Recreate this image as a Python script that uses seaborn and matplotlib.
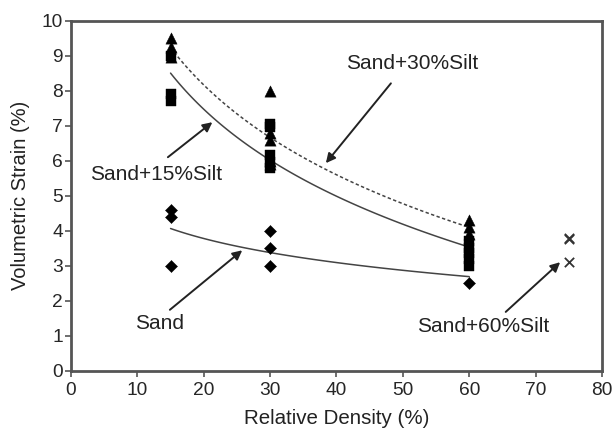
import numpy as np
import matplotlib
matplotlib.use("Agg")
import matplotlib.pyplot as plt
import seaborn as sns

# Measured volumetric strain (%) against relative density (%) for each soil
sand_x = [15, 15, 15, 30, 30, 30, 60]
sand_y = [4.6, 4.4, 3.0, 4.0, 3.5, 3.0, 2.5]

silt15_x = [15, 15, 15, 30, 30, 30, 30, 30, 60, 60, 60, 60, 60]
silt15_y = [9.0, 7.9, 7.7, 7.05, 6.95, 6.15, 5.95, 5.8, 3.7, 3.5, 3.35, 3.2, 3.0]

silt30_x = [15, 15, 15, 30, 30, 30, 30, 30, 60, 60, 60]
silt30_y = [9.5, 9.25, 8.95, 8.0, 6.8, 6.6, 6.0, 5.9, 4.3, 4.1, 3.9]

silt60_x = [75, 75, 75]
silt60_y = [3.8, 3.75, 3.1]

x_ticks = [0, 10, 20, 30, 40, 50, 60, 70, 80]
y_ticks = list(range(0, 11))

sns.set_style("white")
plt.rcParams["font.family"] = ["Liberation Sans", "DejaVu Sans"]

fig = plt.figure(figsize=(6.13, 4.32), dpi=100)
ax = fig.add_axes([0.1158, 0.1419, 0.8662, 0.8102])

# (x, y, marker, size, dash pattern of the trendline)
series = [
    (silt30_x, silt30_y, "^", 66, (2.2, 1.6)),
    (silt15_x, silt15_y, "s", 60, None),
    (sand_x, sand_y, "D", 38, None),
]

# log-x trendlines fitted to each data set
for xs, ys, _, _, dash in series:
    sns.regplot(x=np.array(xs, float), y=np.array(ys, float), logx=True,
                ci=None, scatter=False, truncate=True, ax=ax,
                line_kws=dict(color="#444444", lw=1.1))
    if dash is not None:
        ax.lines[-1].set_dashes(dash)

for xs, ys, mk, sz, _ in series:
    sns.scatterplot(x=xs, y=ys, marker=mk, s=sz, color="black",
                    edgecolor="black", linewidth=0.3, ax=ax, zorder=3)

sns.scatterplot(x=silt60_x, y=silt60_y, marker="x", s=45, color="#333333",
                linewidth=1.3, ax=ax, zorder=3)

ax.set_xlim(0, 80)
ax.set_ylim(0, 10)
ax.set_xticks(x_ticks)
ax.set_yticks(y_ticks)
ax.tick_params(axis="both", which="major", labelsize=13.8, length=4,
               width=1.2, color="#555555", direction="out",
               bottom=True, left=True)
ax.tick_params(axis="x", pad=4)
ax.tick_params(axis="y", pad=2)
for sp in ax.spines.values():
    sp.set_color("#555555")
    sp.set_linewidth(2)
    sp.set_visible(True)

ax.set_xlabel("Relative Density (%)", fontsize=14.8, labelpad=7,
              color="#222222")
ax.set_ylabel("Volumetric Strain (%)", fontsize=14.5, labelpad=8,
              color="#222222")

arrow = dict(arrowstyle="-|>", color="#222222", lw=1.4, mutation_scale=14,
             shrinkA=0, shrinkB=0)
notes = [
    ("Sand+30%Silt", (51.4, 8.78), (48.2, 8.21), (38.4, 5.93)),
    ("Sand+15%Silt", (12.9, 5.61), (14.6, 6.10), (21.3, 7.10)),
    ("Sand", (13.4, 1.36), (14.9, 1.74), (25.8, 3.44)),
    ("Sand+60%Silt", (62.1, 1.25), (65.5, 1.68), (73.7, 3.10)),
]
for label, pos, tail, tip in notes:
    ax.text(pos[0], pos[1], label, fontsize=15, ha="center", va="center",
            color="#222222")
    ax.annotate("", xy=tip, xytext=tail, arrowprops=arrow)

fig.savefig("out.png", dpi=100)
